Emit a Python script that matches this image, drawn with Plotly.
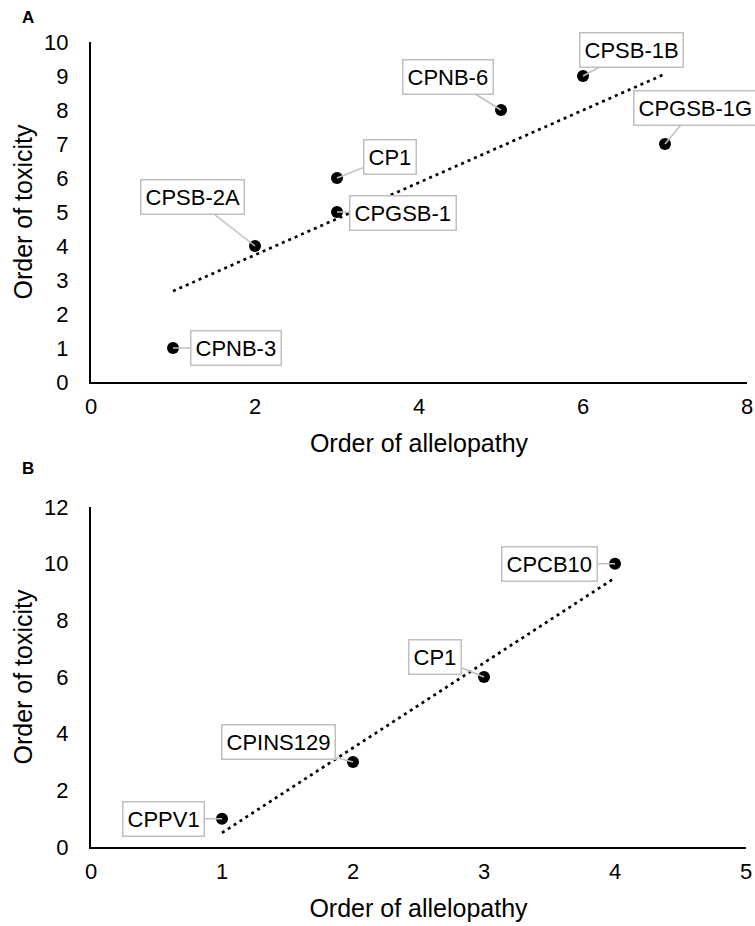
import numpy as np
import plotly.graph_objects as go

# Panel A data
a_names = ["CPNB-3", "CPSB-2A", "CP1", "CPGSB-1", "CPNB-6", "CPSB-1B", "CPGSB-1G"]
a_allelopathy = [1, 2, 3, 3, 5, 6, 7]
a_toxicity = [1, 4, 6, 5, 8, 9, 7]

# Panel B data
b_names = ["CPPV1", "CPINS129", "CP1", "CPCB10"]
b_allelopathy = [1, 2, 3, 4]
b_toxicity = [1, 3, 6, 10]

# label offsets (pixels) for callouts
a_offsets = [(63, 0), (-63, -49), (53, -21), (66, 1), (-53, -33), (48, -26), (30, -36)]
b_offsets = [(-59, 0), (-75, -20), (-49, -20), (-66, 0)]

W, H = 755, 926
FONT = "Liberation Sans, Arial, sans-serif"

def py(px):
    return 1 - px / H

fig = go.Figure()

def add_panel(xs, ys, names, offs, xa, ya):
    xs = np.array(xs, float)
    ys = np.array(ys, float)
    m, c = np.polyfit(xs, ys, 1)
    lx = np.array([xs.min(), xs.max()])
    fig.add_trace(go.Scatter(x=lx, y=m * lx + c, mode="lines",
                             line=dict(color="black", width=2.7, dash="3px,4px"),
                             xaxis=xa, yaxis=ya, showlegend=False, hoverinfo="skip"))
    fig.add_trace(go.Scatter(x=xs, y=ys, mode="markers",
                             marker=dict(color="black", size=12),
                             xaxis=xa, yaxis=ya, showlegend=False, text=names))
    for x, y, n, (ax, ay) in zip(xs, ys, names, offs):
        fig.add_annotation(x=x, y=y, xref=xa, yref=ya, text=n, showarrow=True,
                           ax=ax, ay=ay, arrowhead=0, arrowwidth=1.5, arrowcolor="#bfbfbf",
                           standoff=0, bgcolor="white", bordercolor="#bfbfbf", borderwidth=1.5,
                           borderpad=4, font=dict(size=22, color="black", family=FONT))

add_panel(a_allelopathy, a_toxicity, a_names, a_offsets, "x", "y")
add_panel(b_allelopathy, b_toxicity, b_names, b_offsets, "x2", "y2")

axis_common = dict(showline=True, linecolor="black", linewidth=2, showgrid=False,
                   zeroline=False, ticks="", tickfont=dict(size=22, color="black", family=FONT),
                   automargin=False)
title_font = dict(size=25, color="black", family=FONT)
xt = dict(ticklabelstandoff=4)
yt = dict(ticklabelstandoff=16)

fig.update_layout(
    width=W, height=H, margin=dict(l=0, r=0, t=0, b=0),
    plot_bgcolor="white", paper_bgcolor="white",
    xaxis=dict(domain=[91 / W, 747 / W], range=[0, 8], dtick=2, anchor="y",
               title=dict(text="Order of allelopathy", font=title_font, standoff=16), **xt, **axis_common),
    yaxis=dict(domain=[py(382), py(42)], range=[0, 10], dtick=1, anchor="x",
               title=dict(text="Order of toxicity", font=title_font, standoff=4), **yt, **axis_common),
    xaxis2=dict(domain=[91 / W, 746 / W], range=[0, 5], dtick=1, anchor="y2",
                title=dict(text="Order of allelopathy", font=title_font, standoff=16), **xt, **axis_common),
    yaxis2=dict(domain=[py(847), py(507)], range=[0, 12], dtick=2, anchor="x2",
                title=dict(text="Order of toxicity", font=title_font, standoff=4), **yt, **axis_common),
)

for lab, ypx in [("A", 17.5), ("B", 468)]:
    fig.add_annotation(x=27.5 / W, y=py(ypx), xref="paper", yref="paper", text="<b>%s</b>" % lab,
                       xanchor="center", yanchor="middle",
                       showarrow=False, font=dict(size=17, color="black", family=FONT))

fig.write_html("out.html", config={"displayModeBar": False},
               post_script="document.body.style.margin='0';document.body.style.overflow='hidden';")
